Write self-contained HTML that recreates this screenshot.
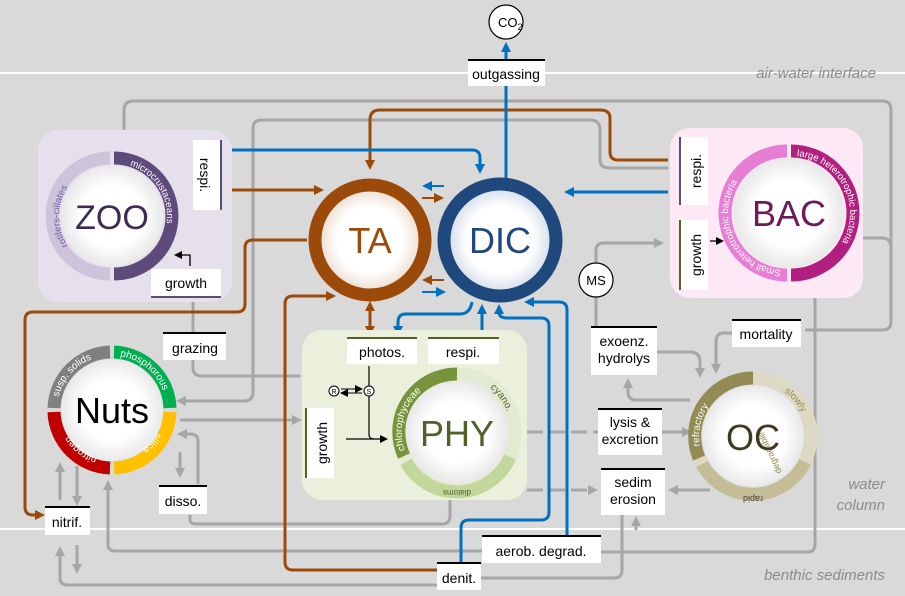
<!DOCTYPE html>
<html><head><meta charset="utf-8"><style>
html,body{margin:0;padding:0;background:#d9d9d9}
svg{display:block}
text{font-family:"Liberation Sans","DejaVu Sans",sans-serif}
</style></head><body>
<svg width="905" height="596" viewBox="0 0 905 596" xmlns="http://www.w3.org/2000/svg">
<defs>
<marker id="ag" markerWidth="10" markerHeight="10" refX="6" refY="5" orient="auto" markerUnits="userSpaceOnUse"><path d="M0,0 L10,5 L0,10 z" fill="#a6a6a6"/></marker>
<marker id="ab" markerWidth="10" markerHeight="10" refX="6" refY="5" orient="auto" markerUnits="userSpaceOnUse"><path d="M0,0 L10,5 L0,10 z" fill="#9c4a0a"/></marker>
<marker id="al" markerWidth="10" markerHeight="10" refX="6" refY="5" orient="auto" markerUnits="userSpaceOnUse"><path d="M0,0 L10,5 L0,10 z" fill="#0070c0"/></marker>
<marker id="abl" markerWidth="8" markerHeight="8" refX="6" refY="4" orient="auto" markerUnits="userSpaceOnUse"><path d="M0,0 L8,4 L0,8 z" fill="#000"/></marker>
<radialGradient id="wg"><stop offset="0.6" stop-color="#fff"/><stop offset="1" stop-color="#e8e8e8"/></radialGradient>
<radialGradient id="tag"><stop offset="0.6" stop-color="#fff"/><stop offset="1" stop-color="#e9d6c6"/></radialGradient>
<radialGradient id="dg"><stop offset="0.6" stop-color="#fff"/><stop offset="1" stop-color="#ccd6e6"/></radialGradient>
</defs>
<rect width="905" height="596" fill="#d9d9d9"/>
<line x1="0" y1="73" x2="905" y2="73" stroke="#fff" stroke-width="2"/>
<line x1="0" y1="529" x2="905" y2="529" stroke="#fff" stroke-width="2"/>
<text x="876" y="78" font-size="15" font-style="italic" fill="#8c8c8c" text-anchor="end">air-water interface</text>
<text x="885" y="489" font-size="15" font-style="italic" fill="#8c8c8c" text-anchor="end">water</text>
<text x="885" y="510" font-size="15" font-style="italic" fill="#8c8c8c" text-anchor="end">column</text>
<text x="885" y="580" font-size="15" font-style="italic" fill="#8c8c8c" text-anchor="end">benthic  sediments</text>

<!-- gray connectors -->
<g fill="none" stroke="#a6a6a6" stroke-width="3">
<path d="M124,130 V110 Q124,101 134,101 H882 Q891,101 891,110 V322 Q891,330 882,330 H805"/>
<path d="M253,395 V128 Q253,120 262,120 H590 Q600,120 600,130 V160 Q600,168 610,168 H668"/>
<path d="M253,392 Q253,401 244,401 H180" marker-end="url(#ag)"/>
<path d="M193,302 V368 Q193,376 202,376 H300"/>
<path d="M180,420 H298" marker-end="url(#ag)"/>
<path d="M180,452 V474" marker-end="url(#ag)"/>
<path d="M198,484 V441 Q198,434 190,434 H181" marker-end="url(#ag)"/>
<path d="M190,515 V520 Q190,524 198,524 H442 Q450,524 450,516 V500"/>
<path d="M60,500 V466" marker-end="url(#ag)"/>
<path d="M77,466 V502" marker-end="url(#ag)"/>
<path d="M60,578 Q60,585 68,585 H437"/>
<path d="M60,580 V550" marker-end="url(#ag)"/>
<path d="M77,545 V570" marker-end="url(#ag)"/>
<path d="M108,490 V545 Q108,551 116,551 H482"/>
<path d="M108,545 V484" marker-end="url(#ag)"/>
<path d="M527,432 H598" stroke-dasharray="16,6"/>
<path d="M662,432 H688" marker-end="url(#ag)"/>
<path d="M527,490 H594" stroke-dasharray="16,6" marker-end="url(#ag)"/>
<path d="M710,490 H672" marker-end="url(#ag)"/>
<path d="M636,530 V520" marker-end="url(#ag)"/>
<path d="M601,552 H808 Q815,552 815,544 V298"/>
<path d="M622,515 V570 Q622,578 614,578 H481"/>
<path d="M657,352 H690 Q700,352 700,362 V374" marker-end="url(#ag)"/>
<path d="M690,400 H636 Q628,400 628,392 V382" marker-end="url(#ag)"/>
<path d="M732,333 H724 Q716,333 716,342 V370" marker-end="url(#ag)"/>
<path d="M596,297 V328"/>
<path d="M596,263 V250 Q596,243 604,243 H660" marker-end="url(#ag)"/>
<path d="M862,238 H882 Q891,238 891,248"/>
</g>

<!-- brown connectors -->
<g fill="none" stroke="#9c4a0a" stroke-width="3">
<path d="M668,160 H618 Q610,160 610,152 V118 Q610,110 600,110 H380 Q370,110 370,120 V166" marker-end="url(#ab)"/>
<path d="M232,190 H320" marker-end="url(#ab)"/>
<path d="M307,240 H253 Q245,240 245,248 V304 Q245,312 237,312 H33 Q25,312 25,320 V507 Q25,515 33,515 H41" marker-end="url(#ab)"/>
<path d="M437,570 H293 Q285,570 285,562 V304 Q285,296 293,296 H332" marker-end="url(#ab)"/>
<path d="M370,316 V332" marker-end="url(#ab)"/>
<path d="M370,320 V305" marker-end="url(#ab)"/>
<path d="M422,198 H440" stroke-width="2" marker-end="url(#ab)"/>
<path d="M444,280 H426" stroke-width="2" marker-end="url(#ab)"/>
</g>

<!-- blue connectors -->
<g fill="none" stroke="#0070c0" stroke-width="3">
<path d="M232,150 H472 Q480,150 480,158 V170" marker-end="url(#al)"/>
<path d="M668,192 H568" marker-end="url(#al)"/>
<path d="M506,178 V46" marker-end="url(#al)"/>
<path d="M472,302 Q470,314 460,314 H406 Q398,314 398,322 V332" marker-end="url(#al)"/>
<path d="M482,336 V308" marker-end="url(#al)"/>
<path d="M567,536 V310 Q567,302 559,302 H528" marker-end="url(#al)"/>
<path d="M461,563 V528 Q461,520 469,520 H541 Q549,520 549,512 V326 Q549,318 541,318 H507 Q499,318 499,312 V308" marker-end="url(#al)"/>
<path d="M444,186 H426" stroke-width="2" marker-end="url(#al)"/>
<path d="M422,292 H442" stroke-width="2" marker-end="url(#al)"/>
</g>

<!-- CO2 -->
<circle cx="506" cy="22" r="17" fill="#fff" stroke="#000" stroke-width="1.2"/>
<text x="498" y="27" font-size="13">CO<tspan font-size="9" dy="3">2</tspan></text>
<rect x="468" y="61" width="77" height="25" fill="#fff"/><rect x="468" y="59" width="77" height="2" fill="#000"/>
<text x="506" y="79" font-size="14" text-anchor="middle">outgassing</text>

<!-- ZOO panel -->
<rect x="38" y="130" width="194" height="172" rx="20" fill="#e6e0ec"/>
<path d="M110,158 A58,58 0 0 0 110,274" fill="none" stroke="#cdc3db" stroke-width="13"/>
<path d="M114,158 A58,58 0 0 1 114,274" fill="none" stroke="#5f4a7c" stroke-width="13"/>
<circle cx="112" cy="216" r="51" fill="url(#wg)"/>
<path id="zr" d="M114,163 A53,53 0 0 1 114,269" fill="none"/>
<text font-size="9.5" fill="#fff"><textPath href="#zr" startOffset="16">microcrustaceans</textPath></text>
<path id="zl" d="M69,247 A53,53 0 0 1 103,164" fill="none"/>
<text font-size="9.5" fill="#7a5ca6"><textPath href="#zl" startOffset="2">rotifers-cillates</textPath></text>
<text x="112" y="229" font-size="34" fill="#3d2a55" text-anchor="middle">ZOO</text>
<rect x="193" y="140" width="28" height="70" fill="#fff"/><rect x="220" y="140" width="2" height="70" fill="#5f4a7c"/>
<text transform="translate(200,175) rotate(90)" font-size="14" text-anchor="middle">respi.</text>
<rect x="151" y="269" width="70" height="27" fill="#fff"/><rect x="151" y="296" width="70" height="2" fill="#5f4a7c"/>
<text x="186" y="288" font-size="14" text-anchor="middle">growth</text>
<path d="M190,266 V255 H176" fill="none" stroke="#000" stroke-width="1.3" marker-end="url(#abl)"/>

<!-- TA -->
<circle cx="370" cy="240" r="55" fill="url(#tag)" stroke="#9c4a0a" stroke-width="13"/>
<text x="370" y="253" font-size="36" fill="#9c4a0a" text-anchor="middle">TA</text>
<!-- DIC -->
<circle cx="500" cy="240" r="56" fill="url(#dg)" stroke="#1f497d" stroke-width="13"/>
<text x="500" y="253" font-size="36" fill="#1f497d" text-anchor="middle">DIC</text>

<!-- BAC -->
<rect x="670" y="128" width="193" height="170" rx="20" fill="#fde9f5"/>
<path d="M787,151 A62,62 0 0 0 787,275" fill="none" stroke="#e77ed4" stroke-width="13"/>
<path d="M791,151 A62,62 0 0 1 791,275" fill="none" stroke="#b2207f" stroke-width="13"/>
<circle cx="789" cy="213" r="55" fill="url(#wg)"/>
<path id="br" d="M793,156 A57,57 0 0 1 793,270" fill="none"/>
<text font-size="9.5" fill="#fff"><textPath href="#br" startOffset="4">large heterotrophic bacteria</textPath></text>
<path id="bl" d="M785,270 A57,57 0 0 1 785,156" fill="none"/>
<text font-size="9.5" fill="#fff"><textPath href="#bl" startOffset="4">Small heterotrophic bacteria</textPath></text>
<text x="789" y="226" font-size="36" fill="#6b1a5a" text-anchor="middle">BAC</text>
<rect x="680" y="137" width="28" height="68" fill="#fff"/><rect x="679" y="137" width="2" height="68" fill="#5f4a7c"/>
<text transform="translate(701,171) rotate(-90)" font-size="14" text-anchor="middle">respi.</text>
<rect x="680" y="220" width="28" height="70" fill="#fff"/><rect x="679" y="220" width="2" height="70" fill="#4f6228"/>
<text transform="translate(701,255) rotate(-90)" font-size="14" text-anchor="middle">growth</text>
<path d="M710,241 H722" stroke="#000" stroke-width="1.3" marker-end="url(#abl)"/>

<!-- MS -->
<circle cx="596" cy="280" r="17" fill="#fff" stroke="#000" stroke-width="1.2"/>
<text x="596" y="285" font-size="13" text-anchor="middle">MS</text>

<!-- PHY panel -->
<rect x="302" y="330" width="225" height="170" rx="20" fill="#ebf0dd"/>
<circle cx="457" cy="432" r="58" fill="none" stroke="#e3ead2" stroke-width="13"/>
<path d="M457,374 A58,58 0 0 0 404,456" fill="none" stroke="#77933c" stroke-width="13"/>
<path d="M406,462 A58,58 0 0 0 510,457" fill="none" stroke="#c3d69b" stroke-width="13"/>
<circle cx="457" cy="432" r="51" fill="url(#wg)"/>
<path id="pc" d="M405,450 A52,52 0 0 1 450,380" fill="none"/>
<text font-size="10" fill="#fff"><textPath href="#pc">chlorophyceae</textPath></text>
<path id="py" d="M490,388 A52,52 0 0 1 510,430" fill="none"/>
<text font-size="10" fill="#4f6228"><textPath href="#py">cyano.</textPath></text>
<text x="457" y="496" font-size="8" fill="#4f6228" text-anchor="middle" transform="rotate(180 457 493)">diatoms</text>
<text x="457" y="446" font-size="36" fill="#4f6228" text-anchor="middle">PHY</text>
<rect x="347" y="338" width="70" height="26" fill="#fff"/><rect x="347" y="337" width="70" height="2" fill="#4f6228"/>
<text x="382" y="357" font-size="14" text-anchor="middle">photos.</text>
<rect x="428" y="338" width="71" height="26" fill="#fff"/><rect x="428" y="337" width="71" height="2" fill="#4f6228"/>
<text x="463" y="357" font-size="14" text-anchor="middle">respi.</text>
<rect x="306" y="408" width="28" height="70" fill="#fff"/><rect x="305" y="408" width="2" height="70" fill="#4f6228"/>
<text transform="translate(327,443) rotate(-90)" font-size="14" text-anchor="middle">growth</text>
<circle cx="334" cy="391" r="5" fill="#fff" stroke="#000"/><text x="334" y="394" font-size="7" text-anchor="middle">R</text>
<circle cx="369" cy="391" r="5" fill="#fff" stroke="#000"/><text x="369" y="394" font-size="7" text-anchor="middle">S</text>
<path d="M341,389 H361" stroke="#000" stroke-width="1" marker-end="url(#abl)"/>
<path d="M362,393 H342" stroke="#000" stroke-width="1" marker-end="url(#abl)"/>
<path d="M369,366 V386 M369,396 V434 Q369,439 374,439" stroke="#000" stroke-width="1.2" fill="none"/>
<path d="M346,439 H386" stroke="#000" stroke-width="1.2" marker-end="url(#abl)"/>

<!-- Nuts -->
<g fill="none" stroke-width="13">
<path d="M110,352 A58,58 0 0 0 54,408" stroke="#808080"/>
<path d="M114,352 A58,58 0 0 1 170,408" stroke="#00b050"/>
<path d="M170,412 A58,58 0 0 1 114,468" stroke="#ffc000"/>
<path d="M110,468 A58,58 0 0 1 54,412" stroke="#c00000"/>
</g>
<circle cx="112" cy="410" r="51" fill="url(#wg)"/>
<path id="n1" d="M58,400 A54,54 0 0 1 104,356" fill="none"/>
<text font-size="10" fill="#fff"><textPath href="#n1" startOffset="3">susp. solids</textPath></text>
<path id="n2" d="M118,356 A54,54 0 0 1 166,402" fill="none"/>
<text font-size="10" fill="#fff"><textPath href="#n2" startOffset="2">phosphorous</textPath></text>
<path id="n3" d="M161,419 A50,50 0 0 1 121,459" fill="none"/>
<text font-size="10" fill="#fff"><textPath href="#n3" startOffset="14">silica</textPath></text>
<path id="n4" d="M103,459 A50,50 0 0 1 63,419" fill="none"/>
<text font-size="10" fill="#fff"><textPath href="#n4" startOffset="6">nitrogen</textPath></text>
<text x="112" y="423" font-size="36" fill="#000" text-anchor="middle">Nuts</text>

<!-- OC -->
<circle cx="753" cy="436" r="58" fill="none" stroke="#ddd9c3" stroke-width="13"/>
<path d="M753,378 A58,58 0 0 0 699,458" fill="none" stroke="#948a54" stroke-width="13"/>
<path d="M702,464 A58,58 0 0 0 805,462" fill="none" stroke="#c4bd97" stroke-width="13"/>
<circle cx="753" cy="436" r="51" fill="url(#wg)"/>
<path id="or" d="M700,446 A54,54 0 0 1 740,384" fill="none"/>
<text font-size="10" fill="#fff"><textPath href="#or">refractory</textPath></text>
<path id="os" d="M784,392 A54,54 0 0 1 804,418" fill="none"/>
<text font-size="10" fill="#948a54"><textPath href="#os">slowly</textPath></text>
<text x="753" y="502" font-size="9" fill="#4a4530" text-anchor="middle" transform="rotate(180 753 499)">rapid</text>
<text x="782" y="472" font-size="9" fill="#948a54" transform="rotate(-115 782 472)">degradable</text>
<text x="753" y="450" font-size="36" fill="#3f3a1f" text-anchor="middle">OC</text>

<!-- labels -->
<g font-size="14" text-anchor="middle">
<rect x="163" y="334" width="63" height="26" fill="#fff"/><rect x="163" y="332" width="63" height="2" fill="#000"/><text x="195" y="353">grazing</text>
<rect x="159" y="487" width="48" height="27" fill="#fff"/><rect x="159" y="485" width="48" height="2" fill="#000"/><text x="183" y="506">disso.</text>
<rect x="45" y="508" width="45" height="27" fill="#fff"/><rect x="45" y="506" width="45" height="2" fill="#000"/><text x="67" y="527">nitrif.</text>
<rect x="591" y="328" width="66" height="47" fill="#fff"/><rect x="591" y="326" width="66" height="2" fill="#000"/><text x="624" y="346">exoenz.</text><text x="624" y="363">hydrolys</text>
<rect x="732" y="321" width="69" height="26" fill="#fff"/><rect x="732" y="319" width="69" height="2" fill="#000"/><text x="766" y="339">mortality</text>
<rect x="598" y="410" width="64" height="45" fill="#fff"/><rect x="598" y="408" width="64" height="2" fill="#000"/><text x="630" y="427">lysis &amp;</text><text x="630" y="444">excretion</text>
<rect x="601" y="470" width="64" height="45" fill="#fff"/><rect x="601" y="468" width="64" height="2" fill="#000"/><text x="633" y="487">sedim</text><text x="633" y="504">erosion</text>
<rect x="482" y="537" width="119" height="26" fill="#fff"/><rect x="482" y="535" width="119" height="2" fill="#000"/><text x="541" y="556">aerob. degrad.</text>
<rect x="437" y="564" width="44" height="26" fill="#fff"/><rect x="437" y="562" width="44" height="2" fill="#000"/><text x="459" y="583">denit.</text>
</g>
</svg>
</body></html>
